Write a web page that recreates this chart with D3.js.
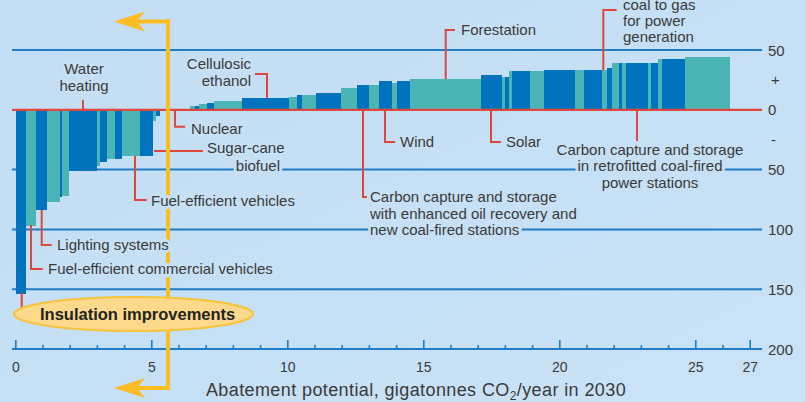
<!DOCTYPE html>
<html><head><meta charset="utf-8">
<script src="https://cdn.jsdelivr.net/npm/d3@7"></script>
<style>
html,body{margin:0;padding:0;background:#c6e0f5;}
svg{display:block;font-family:"Liberation Sans",Arial,sans-serif;}
</style></head>
<body><svg id="c" width="805" height="402"></svg>
<script>
// abatement potential of each measure (Gt CO2/year) and cost (EUR/t CO2)
const widths = [0.39,0.34,0.43,0.45,0.10,0.23,1.05,0.12,0.26,0.26,0.29,0.66,0.48,0.11,0.14,
  1.11,
  0.15,0.18,0.29,0.26,1.03,1.73,0.26,0.22,0.48,0.92,
  0.59,0.44,0.37,0.48,0.18,0.48,2.61,0.77,0.11,0.18,
  0.11,0.66,0.51,1.14,0.33,0.66,0.18,0.18,
  0.26,0.11,0.15,0.81,0.11,0.26,
  0.15,0.85,1.62];
const costs = [-154,-97,-84,-77,-72.5,-72,-51,-47,-44,-41,-41,-39,-39,-9,-5,
  0,
  3,3,5,5.5,7.2,10,10.8,12.5,12.5,13.9,
  18.1,20.6,20.6,24,22.3,24,25.7,29,27.3,27.3,
  32.4,32.4,32.4,33.2,33.2,33.2,33.2,34.9,
  39.3,39.3,39.3,39.3,39.3,39.3,
  42.4,42.4,44.1];
const xTickLabels = [0,5,10,15,20,25,27];
const yGridValues = [50,-50,-100,-150];
const yAxisLabels = [["50",50],["+",25],["0",0],["-",-25],["50",-50],["100",-100],["150",-150],["200",-200]];
const xTitle = "Abatement potential, gigatonnes CO";

const svg = d3.select("#c");
const W = 805, H = 402;
const x = d3.scaleLinear().domain([0,27]).range([15.8, 750.2]);
const y = d3.scaleLinear().domain([-200,50]).range([349,50]);

// background
const defs = svg.append("defs");
const g1 = defs.append("linearGradient").attr("id","bg").attr("x1","0").attr("y1","0").attr("x2","1").attr("y2","1");
g1.append("stop").attr("offset","0").attr("stop-color","#c3def4");
g1.append("stop").attr("offset","0.6").attr("stop-color","#c6e0f5");
g1.append("stop").attr("offset","1").attr("stop-color","#cae2f5");
svg.append("rect").attr("width",W).attr("height",H).attr("fill","url(#bg)");

const BG = "#c6e0f5";
const BLUE = "#0073bf", TEAL = "#4ab5b4", RED = "#e0473c", GRID = "#1f7cc5", YEL = "#fbbd22", TXT = "#3a3a3a";

// grid
svg.selectAll("line.grid").data(yGridValues).enter().append("line")
  .attr("x1",12).attr("x2",762).attr("y1",d=>y(d)).attr("y2",d=>y(d))
  .attr("stroke",GRID).attr("stroke-width",2);

// bars
let cum = 0, k = 0;
const bars = widths.map((w,i)=>{const b={x0:cum,x1:cum+w,v:costs[i],c:(costs[i]===0?null:(k++%2===0?BLUE:TEAL))}; cum+=w; return b;});
svg.selectAll("rect.bar").data(bars.filter(b=>b.v!==0)).enter().append("rect")
  .attr("x",d=>x(d.x0)).attr("width",d=>x(d.x1)-x(d.x0))
  .attr("y",d=>Math.min(y(d.v),y(0))).attr("height",d=>Math.abs(y(d.v)-y(0)))
  .attr("fill",d=>d.c).attr("shape-rendering","crispEdges");

// zero line
svg.append("line").attr("x1",12).attr("x2",762).attr("y1",y(0)).attr("y2",y(0))
  .attr("stroke",RED).attr("stroke-width",2.2);

// x axis
const ax = y(-200);
svg.append("line").attr("x1",12).attr("x2",762).attr("y1",ax).attr("y2",ax).attr("stroke",GRID).attr("stroke-width",2);
svg.selectAll("line.tick").data(d3.range(0,28)).enter().append("line")
  .attr("x1",d=>x(d)).attr("x2",d=>x(d)).attr("y1",ax).attr("y2",d=>ax-(d%5===0||d===27?9:4))
  .attr("stroke",GRID).attr("stroke-width",1.6);
svg.selectAll("text.xt").data(xTickLabels).enter().append("text")
  .attr("x",d=>x(d)).attr("y",ax+23).attr("text-anchor","middle")
  .attr("font-size",14).attr("fill",TXT).text(d=>d);
const xt = svg.append("text").attr("x",416).attr("y",396).attr("text-anchor","middle")
  .attr("font-size",18).attr("letter-spacing",0.4).attr("fill",TXT);
xt.append("tspan").text(xTitle);
xt.append("tspan").attr("font-size",12).attr("dy",4).text("2");
xt.append("tspan").attr("dy",-4).text("/year in 2030");

// right axis labels
svg.selectAll("text.yl").data(yAxisLabels).enter().append("text")
  .attr("x",d=>d[0].length===1&&isNaN(+d[0])?771:768).attr("y",d=>y(d[1])+5.5)
  .attr("font-size",15).attr("fill",TXT).text(d=>d[0]);

// pointers
const pointers = [
  "M83,100V109", "M255,74H267V97.7", "M175,110V126.7H185", "M445.7,79V30H455",
  "M603.3,70V10H616.7", "M385,110V142H395", "M491,110V142H501", "M637,110V141",
  "M363,110V197H367", "M154,151H203", "M135,156V200H146.7", "M41.7,210V245H51.7",
  "M31,225V269H42.7", "M21.7,293V314H31.7"];
svg.selectAll("path.ptr").data(pointers).enter().append("path")
  .attr("d",d=>d).attr("fill","none").attr("stroke",RED).attr("stroke-width",2);

// yellow arrow
const yx = 168;
svg.append("path").attr("d",`M${yx},19V388`).attr("stroke",YEL).attr("stroke-width",4).attr("fill","none");
[21.5,388].forEach(yy=>{
  svg.append("path").attr("d",`M${yx+2},${yy}H135`).attr("stroke",YEL).attr("stroke-width",4);
  svg.append("path").attr("d",`M114,${yy}L145,${yy-10}L137,${yy}L145,${yy+10}Z`).attr("fill",YEL);
});
svg.append("ellipse").attr("cx",133.5).attr("cy",314).attr("rx",119.5).attr("ry",17)
  .attr("fill","#fdd98c").attr("stroke","#f8c33a").attr("stroke-width",2);

// labels
const labels = [
  ["Water",84,74,"middle"],["heating",84,91,"middle"],
  ["Cellulosic",251,69,"end"],["ethanol",251,86,"end"],
  ["Nuclear",191,134,"start"],
  ["Forestation",461,35,"start"],
  ["coal to gas",623,10,"start"],["for power",623,26,"start"],["generation",623,42,"start"],
  ["Wind",400,147,"start"],["Solar",506,147,"start"],
  ["Carbon capture and storage",650,155,"middle"],["in retrofitted coal-fired",650,171,"middle"],["power stations",650,188,"middle"],
  ["Carbon capture and storage",370,202,"start"],["with enhanced oil recovery and",370,219,"start"],["new coal-fired stations",370,235,"start"],
  ["Sugar-cane",207,153,"start"],["biofuel",280,171,"end"],
  ["Fuel-efficient vehicles",151,206,"start"],
  ["Lighting systems",57,250,"start"],
  ["Fuel-efficient commercial vehicles",48,274,"start"]
];
svg.selectAll("text.lab").data(labels).enter().append("text")
  .attr("x",d=>d[1]).attr("y",d=>d[2]).attr("text-anchor",d=>d[3])
  .attr("font-size",15).attr("fill",TXT)
  .attr("stroke",BG).attr("stroke-width",6).attr("paint-order","stroke").attr("stroke-linejoin","round")
  .text(d=>d[0]);
svg.append("text").attr("x",40).attr("y",320).attr("font-size",16.5).attr("font-weight","bold")
  .attr("fill","#222").text("Insulation improvements");
</script></body></html>
